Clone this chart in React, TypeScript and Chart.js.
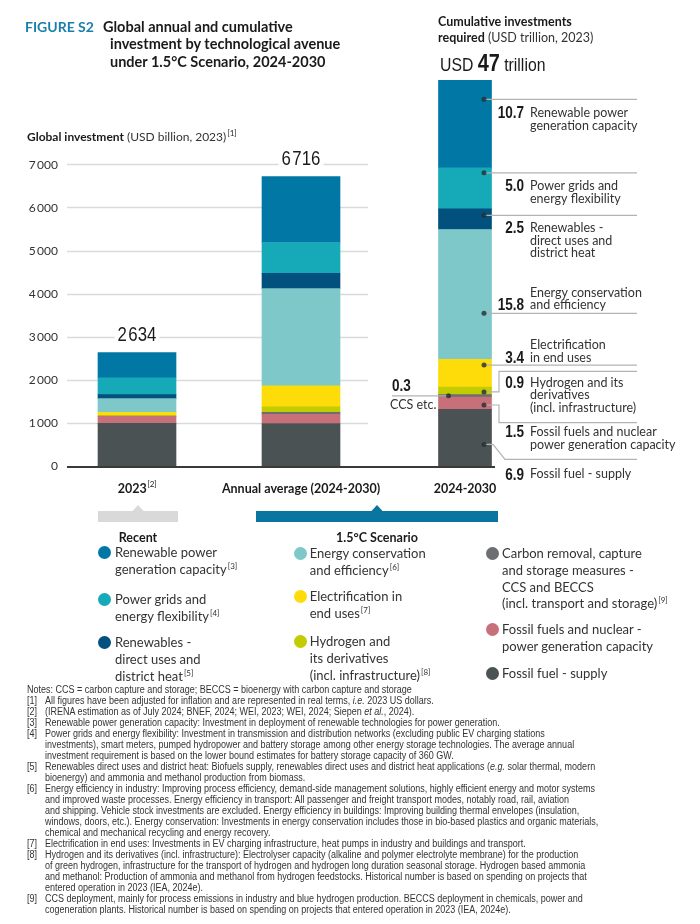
import React, { useEffect, useRef } from 'react';
import { Chart, registerables } from 'chart.js';

Chart.register(...registerables);

// ---------------- DATA ----------------
const categories = ['2023', 'Annual average (2024-2030)', '2024-2030'];
const categoryNotes = ['[2]', '', ''];
const groupLabels = ['Recent', '1.5°C Scenario'];

const seriesNames = [
  'Fossil fuel - supply',
  'Fossil fuels and nuclear - power generation capacity',
  'Carbon removal, capture and storage measures - CCS and BECCS',
  'Hydrogen and its derivatives (incl. infrastructure)',
  'Electrification in end uses',
  'Energy conservation and efficiency',
  'Renewables - direct uses and district heat',
  'Power grids and energy flexibility',
  'Renewable power generation capacity',
];
// USD billion, 2023
const recent2023 = [990, 165, 5, 5, 80, 320, 90, 390, 589];
const annualAverage = [986, 214, 43, 129, 486, 2257, 357, 714, 1530];
// USD trillion, 2024-2030
const cumulative = [6.9, 1.5, 0.3, 0.9, 3.4, 15.8, 2.5, 5.0, 10.7];

const yTicks = [0, 1000, 2000, 3000, 4000, 5000, 6000, 7000];

const cumulativeLabelLines = [
  ['Fossil fuel - supply'],
  ['Fossil fuels and nuclear', 'power generation capacity'],
  ['CCS etc.'],
  ['Hydrogen and its', 'derivatives', '(incl. infrastructure)'],
  ['Electrification', 'in end uses'],
  ['Energy conservation', 'and efficiency'],
  ['Renewables -', 'direct uses and', 'district heat'],
  ['Power grids and', 'energy flexibility'],
  ['Renewable power', 'generation capacity'],
];

const legendColumns = [
  [
    { s: 8, lines: ['Renewable power', 'generation capacity'], note: '[3]' },
    { s: 7, lines: ['Power grids and', 'energy flexibility'], note: '[4]' },
    { s: 6, lines: ['Renewables -', 'direct uses and', 'district heat'], note: '[5]' },
  ],
  [
    { s: 5, lines: ['Energy conservation', 'and efficiency'], note: '[6]' },
    { s: 4, lines: ['Electrification in', 'end uses'], note: '[7]' },
    { s: 3, lines: ['Hydrogen and', 'its derivatives', '(incl. infrastructure)'], note: '[8]' },
  ],
  [
    { s: 2, lines: ['Carbon removal, capture', 'and storage measures -', 'CCS and BECCS', '(incl. transport and storage)'], note: '[9]' },
    { s: 1, lines: ['Fossil fuels and nuclear -', 'power generation capacity'], note: '' },
    { s: 0, lines: ['Fossil fuel - supply'], note: '' },
  ],
];

const notes: [string, React.ReactNode[]][] = [
  ['', ['Notes: CCS = carbon capture and storage; BECCS = bioenergy with carbon capture and storage']],
  ['[1]', [<>All figures have been adjusted for inflation and are represented in real terms, <i>i.e.</i> 2023 US dollars.</>]],
  ['[2]', [<>(IRENA estimation as of July 2024; BNEF, 2024; WEI, 2023; WEI, 2024; Siepen <i>et al.</i>, 2024).</>]],
  ['[3]', ['Renewable power generation capacity: Investment in deployment of renewable technologies for power generation.']],
  ['[4]', [
    'Power grids and energy flexibility: Investment in transmission and distribution networks (excluding public EV charging stations',
    'investments), smart meters, pumped hydropower and battery storage among other energy storage technologies. The average annual',
    'investment requirement is based on the lower bound estimates for battery storage capacity of 360 GW.',
  ]],
  ['[5]', [
    <>Renewables direct uses and district heat: Biofuels supply, renewables direct uses and district heat applications (<i>e.g.</i> solar thermal, modern</>,
    'bioenergy) and ammonia and methanol production from biomass.',
  ]],
  ['[6]', [
    'Energy efficiency in industry: Improving process efficiency, demand-side management solutions, highly efficient energy and motor systems',
    'and improved waste processes. Energy efficiency in transport: All passenger and freight transport modes, notably road, rail, aviation',
    'and shipping. Vehicle stock investments are excluded. Energy efficiency in buildings: Improving building thermal envelopes (insulation,',
    'windows, doors, etc.). Energy conservation: Investments in energy conservation includes those in bio-based plastics and organic materials,',
    'chemical and mechanical recycling and energy recovery.',
  ]],
  ['[7]', ['Electrification in end uses: Investments in EV charging infrastructure, heat pumps in industry and buildings and transport.']],
  ['[8]', [
    'Hydrogen and its derivatives (incl. infrastructure): Electrolyser capacity (alkaline and polymer electrolyte membrane) for the production',
    'of green hydrogen, infrastructure for the transport of hydrogen and hydrogen long duration seasonal storage. Hydrogen based ammonia',
    'and methanol: Production of ammonia and methanol from hydrogen feedstocks. Historical number is based on spending on projects that',
    'entered operation in 2023 (IEA, 2024e).',
  ]],
  ['[9]', [
    'CCS deployment, mainly for process emissions in industry and blue hydrogen production. BECCS deployment in chemicals, power and',
    'cogeneration plants. Historical number is based on spending on projects that entered operation in 2023 (IEA, 2024e).',
  ]],
];

// ---------------- STYLE ----------------
const colors = ['#4b5254', '#c8707a', '#6d6e71', '#c3cc00', '#fddc0a', '#7ec8ca', '#01507e', '#16a9b8', '#0077a4'];
const FONT = 'Lato, "Noto Sans", sans-serif';
const NARROW = '"Liberation Sans", Arial, sans-serif';
const TEAL = '#1a7fab';

const calloutLayout = [
  { frac: 0.38, route: 'diag', lineDy: 15, textDy: 15, above: false },
  { frac: 0.35, route: 'elbow', lineDy: 17.7, textDy: 9.5, above: false },
  { frac: 0.5, route: 'left', lineDy: 0, textDy: 0, above: false },
  { frac: 0.35, route: 'elbow', lineDy: -20.6, textDy: 11.5, above: false },
  { frac: 0.79, route: 'straight', lineDy: 0, textDy: -7.5, above: true },
  { frac: 0.354, route: 'straight', lineDy: 0, textDy: -8, above: true },
  { frac: 0.69, route: 'straight', lineDy: 0, textDy: 13, above: false },
  { frac: 0.88, route: 'straight', lineDy: 0, textDy: 13.5, above: false },
  { frac: 0.78, route: 'straight', lineDy: 0, textDy: 14, above: false },
];

const sum = (a: number[]) => a.reduce((p, c) => p + c, 0);
const cumulativeTotal = Math.round(sum(cumulative) * 10) / 10;
const fmtK = (n: number, gap: string) => {
  const r = Math.round(n);
  return r >= 1000 ? `${Math.floor(r / 1000)}${gap}${String(r % 1000).padStart(3, '0')}` : String(r);
};

function condText(ctx: CanvasRenderingContext2D, text: string, x: number, y: number, align: CanvasTextAlign, font: string, sx: number) {
  ctx.save();
  ctx.font = font;
  ctx.textAlign = align;
  ctx.textBaseline = 'middle';
  ctx.translate(x, y);
  ctx.scale(sx, 1);
  ctx.fillText(text, 0, 0);
  ctx.restore();
}

const overlayPlugin = {
  id: 'overlay',
  beforeDatasetsDraw(chart: any) {
    const { ctx, scales } = chart;
    const x = scales.x, y = scales.y;
    const left = 67;
    const right = x.getPixelForValue(1) + 67;
    ctx.save();
    ctx.strokeStyle = '#dadada';
    ctx.lineWidth = 1.5;
    ctx.font = `12px ${FONT}`;
    ctx.fillStyle = '#333';
    ctx.textAlign = 'right';
    ctx.textBaseline = 'middle';
    yTicks.forEach((v) => {
      const py = y.getPixelForValue(v);
      ctx.fillText(fmtK(v, '\u2009'), 58, py + 0.5);
      if (v <= 0) return;
      const ly = Math.round(py) + 0.5;
      ctx.beginPath();
      ctx.moveTo(left, ly);
      ctx.lineTo(right, ly);
      ctx.stroke();
    });
    ctx.restore();
  },
  afterDatasetsDraw(chart: any) {
    const { ctx, scales } = chart;
    const x = scales.x, y = scales.y, y2 = scales.y2;
    const c = [0, 1, 2].map((i) => x.getPixelForValue(i));
    ctx.save();
    // baseline
    const y0 = y.getPixelForValue(0) + 1;
    ctx.strokeStyle = '#3a3a3a';
    ctx.lineWidth = 2;
    ctx.beginPath();
    ctx.moveTo(67, y0);
    ctx.lineTo(c[2] + 30, y0);
    ctx.stroke();

    // totals
    ctx.textBaseline = 'middle';
    [recent2023, annualAverage].forEach((arr, i) => {
      const tot = sum(arr);
      const label = fmtK(tot, '\u200A');
      const ty = y.getPixelForValue(tot) - 18.5;
      const f = `21px ${NARROW}`;
      ctx.font = f;
      const w = ctx.measureText(label).width * 0.8;
      ctx.fillStyle = '#fff';
      ctx.fillRect(c[i] - w / 2 - 3, ty - 10, w + 6, 20);
      ctx.fillStyle = '#1a1a1a';
      condText(ctx, label, c[i], ty + 1, 'center', f, 0.8);
    });

    // category labels
    categories.forEach((cat, i) => {
      ctx.font = `bold 12.5px ${FONT}`;
      const w = ctx.measureText(cat).width;
      const note = categoryNotes[i];
      ctx.font = `8px ${FONT}`;
      const nw = note ? ctx.measureText(note).width : 0;
      const start = c[i] - (w + nw) / 2;
      ctx.textAlign = 'left';
      ctx.fillStyle = '#1a1a1a';
      ctx.font = `bold 12.5px ${FONT}`;
      ctx.fillText(cat, start, 489);
      if (note) {
        ctx.font = `8px ${FONT}`;
        ctx.fillText(note, start + w + 0.5, 484);
      }
    });

    // group brackets
    const drawBracket = (x1: number, x2: number, color: string, label: string) => {
      const mid = (x1 + x2) / 2;
      ctx.fillStyle = color;
      ctx.fillRect(x1, 511, x2 - x1, 11);
      ctx.beginPath();
      ctx.moveTo(mid - 6, 511.5);
      ctx.lineTo(mid, 505);
      ctx.lineTo(mid + 6, 511.5);
      ctx.closePath();
      ctx.fill();
      ctx.fillStyle = '#1a1a1a';
      ctx.textAlign = 'center';
      ctx.font = `bold 12.5px ${FONT}`;
      ctx.fillText(label, mid, 538);
    };
    drawBracket(c[0] - 39, c[0] + 41, '#d9d9d9', groupLabels[0]);
    drawBracket(c[1] - 45, c[2] + 33, '#0a76a0', groupLabels[1]);

    // cumulative callouts
    const cx = c[2];
    const dotX = cx + 19;
    const lineEnd = cx + 172;
    const numRight = cx + 59;
    const textX = cx + 65;
    const numFont = `bold 16.5px ${NARROW}`;
    let acc = 0;
    const dots: [number, number][] = [];
    cumulative.forEach((v, i) => {
      const L = calloutLayout[i];
      const dotY = y2.getPixelForValue(acc + L.frac * v);
      acc += v;
      const lineY = dotY + L.lineDy;
      ctx.strokeStyle = '#b3b3b3';
      ctx.lineWidth = 1.2;
      ctx.beginPath();
      const num = v.toFixed(1);
      const lines = cumulativeLabelLines[i];
      if (L.route === 'left') {
        const dx = cx - 16.5;
        ctx.moveTo(dx, dotY);
        ctx.lineTo(cx - 73, dotY);
        ctx.stroke();
        dots.push([dx, dotY]);
        ctx.fillStyle = '#1a1a1a';
        condText(ctx, num, cx - 73, dotY - 9.5, 'left', numFont, 0.82);
        ctx.textAlign = 'left';
        ctx.font = `12.5px ${FONT}`;
        ctx.fillStyle = '#333';
        ctx.fillText(lines[0], cx - 75, dotY + 9.5);
        return;
      }
      ctx.moveTo(dotX, dotY);
      if (L.route === 'diag') {
        ctx.lineTo(cx + 28, dotY);
        ctx.lineTo(cx + 40, lineY);
      } else if (L.route === 'elbow') {
        ctx.lineTo(cx + 34, dotY);
        ctx.lineTo(cx + 34, lineY);
      }
      ctx.lineTo(lineEnd, lineY);
      ctx.stroke();
      dots.push([dotX, dotY]);
      const lh = 12.5;
      const n = lines.length;
      const firstY = L.above ? lineY + L.textDy - (n - 1) * lh : lineY + L.textDy;
      const numY = lineY + L.textDy;
      ctx.fillStyle = '#333';
      ctx.textAlign = 'left';
      ctx.font = `12.5px ${FONT}`;
      lines.forEach((t, k) => ctx.fillText(t, textX, firstY + k * lh));
      ctx.fillStyle = '#1a1a1a';
      condText(ctx, num, numRight, numY + 0.5, 'right', numFont, 0.82);
    });
    ctx.fillStyle = 'rgba(35,45,50,0.8)';
    dots.forEach(([dx, dy]) => {
      ctx.beginPath();
      ctx.arc(dx, dy, 2.5, 0, Math.PI * 2);
      ctx.fill();
    });
    ctx.restore();
  },
};

function Txt(props: { x: number; cy: number; size: number; lh?: number; weight?: number; color?: string; family?: string; children: React.ReactNode }) {
  const lh = props.lh ?? props.size * 1.3;
  return (
    <div style={{ position: 'absolute', left: props.x, top: props.cy - lh / 2, lineHeight: `${lh}px`, fontSize: props.size, fontWeight: props.weight ?? 400, color: props.color ?? '#1a1a1a', fontFamily: props.family ?? FONT, whiteSpace: 'nowrap' }}>
      {props.children}
    </div>
  );
}

const Sup = ({ children }: { children: React.ReactNode }) => (
  <span style={{ fontSize: 8, position: 'relative', top: -5, marginLeft: 1 }}>{children}</span>
);

const legendX = [[104.6, 115], [300.6, 309.7], [492.6, 502]];
const legendTops = [[552, 599, 642], [553, 596, 641], [553, 629, 673]];

export default function App() {
  const ref = useRef<HTMLCanvasElement>(null);
  useEffect(() => {
    const datasets: any[] = [];
    seriesNames.forEach((name, i) => {
      datasets.push({
        label: name,
        data: [recent2023[i], annualAverage[i], null],
        backgroundColor: colors[i],
        yAxisID: 'y',
        stack: 's',
        barThickness: 78,
        borderWidth: 0,
      });
    });
    seriesNames.forEach((name, i) => {
      datasets.push({
        label: name + ' (cumulative)',
        data: [null, null, cumulative[i]],
        backgroundColor: colors[i],
        yAxisID: 'y2',
        stack: 's',
        barThickness: 53,
        borderWidth: 0,
      });
    });
    const chart = new Chart(ref.current as HTMLCanvasElement, {
      type: 'bar',
      data: { labels: categories, datasets },
      options: {
        animation: false,
        responsive: true,
        maintainAspectRatio: false,
        layout: { padding: { left: 55, top: 80, right: 153, bottom: 94 } },
        plugins: { legend: { display: false }, tooltip: { enabled: false } },
        scales: {
          x: { type: 'category', stacked: true, display: false, offset: true, grid: { display: false } },
          y: { type: 'linear', display: false, stacked: true, min: 0, max: 8956 },
          y2: { type: 'linear', display: false, stacked: true, min: 0, max: cumulativeTotal },
        },
      } as any,
      plugins: [overlayPlugin],
    });
    return () => chart.destroy();
  }, []);

  return (
    <div style={{ position: 'absolute', left: 0, top: 0, width: 700, height: 924, background: '#fff', overflow: 'hidden', fontFamily: FONT }}>
      <div style={{ position: 'absolute', left: 0, top: 0, width: 700, height: 560 }}>
        <canvas ref={ref} />
      </div>

      <Txt x={25} cy={27} size={14} weight={700} color={TEAL}>FIGURE S2</Txt>
      <Txt x={103} cy={27} size={14.5} weight={700}>Global annual and cumulative</Txt>
      <Txt x={110} cy={44.7} size={14.5} weight={700}>investment by technological avenue</Txt>
      <Txt x={110} cy={62.4} size={14.5} weight={700}>under 1.5°C Scenario, 2024-2030</Txt>

      <Txt x={27} cy={137} size={12}>
        <b>Global investment</b> <span style={{ color: '#333' }}>(USD billion, 2023)</span><Sup>[1]</Sup>
      </Txt>

      <Txt x={438} cy={22} size={12.5} weight={700}>Cumulative investments</Txt>
      <Txt x={438} cy={38.5} size={12.5}>
        <b>required</b> <span style={{ color: '#333' }}>(USD trillion, 2023)</span>
      </Txt>
      <Txt x={440} cy={63} size={19} lh={28} family={NARROW}>
        <span style={{ display: 'inline-block', transform: 'scaleX(0.83)', transformOrigin: 'left center' }}>
          USD <span style={{ fontSize: 24, fontWeight: 700 }}>{String(Math.round(cumulativeTotal))}</span> trillion
        </span>
      </Txt>

      {legendColumns.map((col, ci) =>
        col.map((item, ii) => {
          const top = legendTops[ci][ii];
          return (
            <React.Fragment key={`${ci}-${ii}`}>
              <div style={{ position: 'absolute', left: legendX[ci][0] - 6.5, top: top - 6.5, width: 13, height: 13, borderRadius: '50%', background: colors[item.s] }} />
              {item.lines.map((ln, k) => (
                <Txt key={k} x={legendX[ci][1]} cy={top + k * 16.8} size={13} color="#333" lh={16}>
                  {ln}
                  {k === item.lines.length - 1 && item.note ? <Sup>{item.note}</Sup> : null}
                </Txt>
              ))}
            </React.Fragment>
          );
        })
      )}

      <div style={{ position: 'absolute', left: 27, top: 683.5, fontFamily: NARROW, fontSize: 10, lineHeight: '11px', color: '#333', whiteSpace: 'nowrap', transform: 'scaleX(0.9)', transformOrigin: 'left top' }}>
        {notes.map(([mark, lines], i) => (
          <div key={i} style={{ position: 'relative', paddingLeft: mark ? 20 : 0 }}>
            {mark ? <span style={{ position: 'absolute', left: 0 }}>{mark}</span> : null}
            {lines.map((ln, k) => (
              <div key={k}>{ln}</div>
            ))}
          </div>
        ))}
      </div>
    </div>
  );
}
